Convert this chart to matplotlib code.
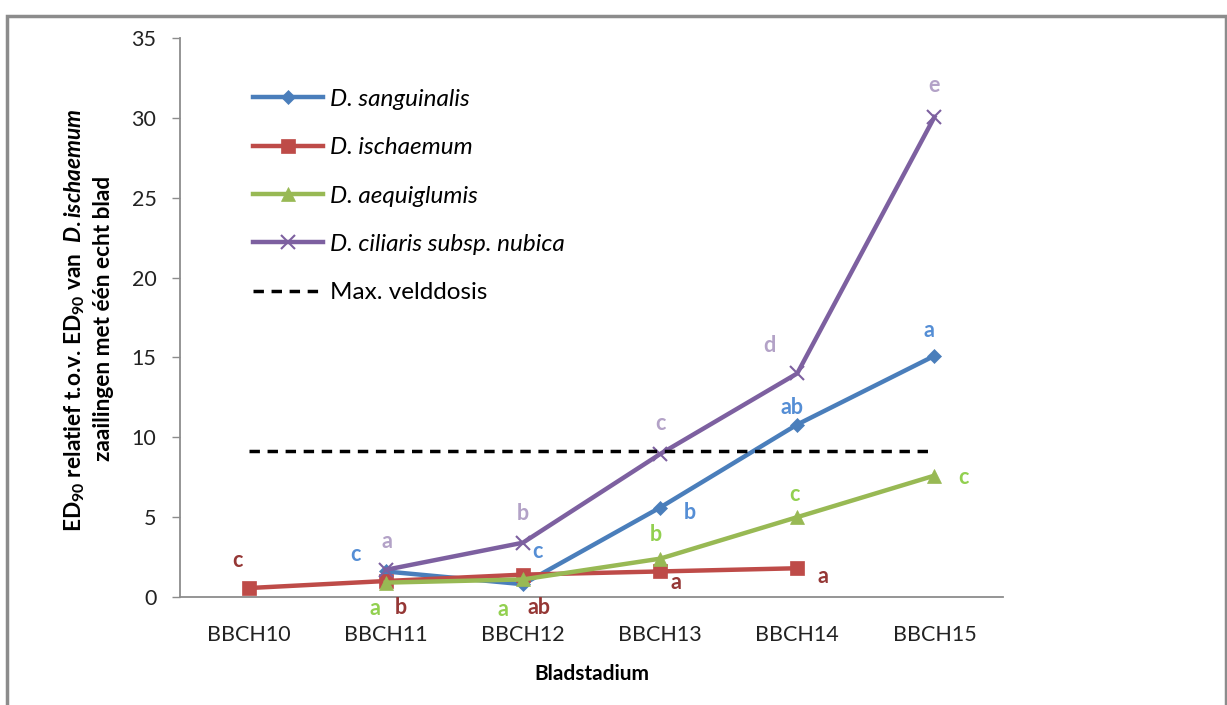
import matplotlib.pyplot as plt
from matplotlib.patches import Rectangle

plt.rcParams['font.family'] = ['Lato', 'DejaVu Sans']
plt.rcParams['mathtext.fontset'] = 'custom'
plt.rcParams['mathtext.rm'] = 'Lato:bold'
plt.rcParams['mathtext.bf'] = 'Lato:bold'
plt.rcParams['mathtext.it'] = 'Lato:bold:italic'

stages = ["BBCH10", "BBCH11", "BBCH12", "BBCH13", "BBCH14", "BBCH15"]

sanguinalis = [None, 1.6, 0.8, 5.6, 10.8, 15.1]
ischaemum = [0.56, 1.0, 1.4, 1.6, 1.8, None]
aequiglumis = [None, 0.9, 1.1, 2.4, 5.0, 7.6]
ciliaris = [None, 1.7, 3.4, 8.95, 14.0, 30.05]
max_veld = 9.15

# significance letters per series, per stage
san_letters = [None, "c", "c", "b", "ab", "a"]
isc_letters = ["c", "b", "ab", "a", "a", None]
aeq_letters = [None, "a", "a", "b", "c", "c"]
cil_letters = [None, "a", "b", "c", "d", "e"]

# label offsets in pixels (dx, dy) from the marker
san_off = [None, (-30, 17), (15, 33), (30, -5), (-5, 17), (-5, 25)]
isc_off = [(-11, 28), (15, -26), (16, -33), (16, -11), (26, -8), None]
aeq_off = [None, (-11, -26), (-20, -30), (-4, 24), (-3, 23), (29, -2)]
cil_off = [None, (1, 28), (0, 29), (0, 31), (-28, 28), (0, 32)]

fig = plt.figure(figsize=(12.27, 7.05), dpi=100)
fig.patches.append(Rectangle((7 / 1227, -0.01), 1219 / 1227, 0.998 - 0.01,
                             transform=fig.transFigure, fill=False,
                             edgecolor="#8c8c8c", linewidth=2.5))
ax = fig.add_axes([180 / 1227, 1 - 597 / 705, 823 / 1227, 559 / 705])

x = list(range(len(stages)))

series = [
    ("D. sanguinalis", sanguinalis, "#4A7EBB", "D", 7, "#558ED5", san_letters, san_off),
    ("D. ischaemum", ischaemum, "#BE4B48", "s", 10, "#953735", isc_letters, isc_off),
    ("D. aequiglumis", aequiglumis, "#98B954", "^", 10, "#92D050", aeq_letters, aeq_off),
    ("D. ciliaris subsp. nubica", ciliaris, "#7D60A0", "x", 10, "#B3A2C7", cil_letters, cil_off),
]

for name, vals, col, mk, ms, lcol, letters, offs in series:
    xs = [i for i, v in zip(x, vals) if v is not None]
    ys = [v for v in vals if v is not None]
    ax.plot(xs, ys, color=col, lw=3.2, marker=mk, markersize=ms,
            markeredgewidth=1.5 if mk == "x" else 0.5, label=name)
    for i, v in enumerate(vals):
        if v is None or letters[i] is None:
            continue
        ax.annotate(letters[i], (i, v), xytext=offs[i], textcoords="offset pixels",
                    ha="center", va="center", color=lcol, fontsize=15.5,
                    fontweight="bold")

ax.plot([0, 5], [max_veld, max_veld], color="black", lw=2.5, ls=(0, (3, 2.2)),
        label="Max. velddosis")

ax.set_xlim(-0.5, 5.5)
ax.set_ylim(0, 35)
ax.set_yticks(range(0, 36, 5))
ax.set_xticks(x)
ax.set_xticklabels(stages)
ax.tick_params(axis="x", length=0, pad=20, labelsize=15.5, colors="#222222")
ax.tick_params(axis="y", length=6, width=1, color="#8c8c8c", pad=11,
               labelsize=15.5, labelcolor="#222222")
for s in ["top", "right"]:
    ax.spines[s].set_visible(False)
for s in ["left", "bottom"]:
    ax.spines[s].set_color("#8c8c8c")
    ax.spines[s].set_linewidth(1.3)

ax.set_xlabel("Bladstadium", fontsize=15, fontweight="bold", labelpad=14)
fig.text(75 / 1227, 1 - 320 / 705,
         r"ED$_{90}$ relatief t.o.v. ED$_{90}$ van  $\mathit{D.ischaemum}$",
         rotation=90, ha="center", va="center", fontsize=16.3, fontweight="bold")
fig.text(104 / 1227, 1 - 318 / 705, "zaailingen met één echt blad",
         rotation=90, ha="center", va="center", fontsize=16.3, fontweight="bold")

leg = ax.legend(loc="upper left", bbox_to_anchor=(0.0765, 0.927), frameon=False,
                fontsize=17.5, handlelength=2.9, labelspacing=1.13,
                handletextpad=0.3, borderaxespad=0)
for t in leg.get_texts()[:4]:
    t.set_style("italic")

fig.savefig("out.png", dpi=100)
